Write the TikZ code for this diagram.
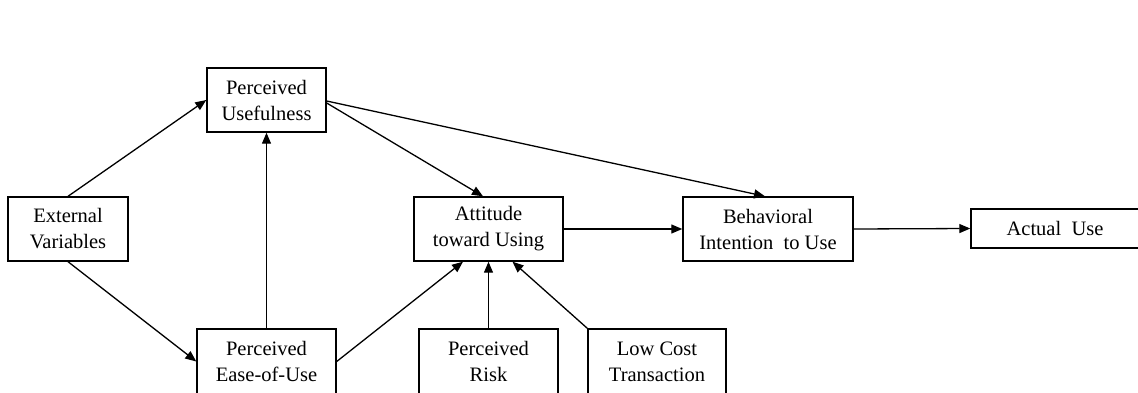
\documentclass[tikz,border=0pt]{standalone}
\usepackage{fontspec}
\setmainfont{Liberation Serif}
\usetikzlibrary{arrows.meta, positioning}

\tikzset{
	box/.style={draw, line width=1.4pt, align=center, inner sep=0pt,
		font=\fontsize{20.5}{26}\selectfont},
	arr/.style={line width=1.3pt, -{Triangle[length=11pt,width=9pt]}}
}

\begin{document}
\begin{tikzpicture}[x=1pt,y=1pt]
		\useasboundingbox (0,0) rectangle (1138,392);
		\node [box,minimum width=119pt,minimum height=64pt] at (266.5,292) (pu) {Perceived\\Usefulness};
		\node [box,minimum width=120pt,minimum height=64pt] at (68,163) (ev) {External\\Variables};
		\node [box,minimum width=139pt,minimum height=65pt] at (266.5,30.5) (ease) {Perceived\\Ease-of-Use};
		\node [box,minimum width=149pt,minimum height=64pt] at (488.5,163) (att) {Attitude\\toward Using};
		\node [box,minimum width=170pt,minimum height=64pt] at (768,163) (bi) {Behavioral\\Intention~ to Use};
		\node [box,minimum width=168pt,minimum height=39pt] at (1055,163.5) (au) {Actual~ Use};
		\node [box,minimum width=139pt,minimum height=65pt] at (488.5,30.5) (risk) {Perceived\\Risk};
		\node [box,minimum width=138pt,minimum height=65pt] at (657,30.5) (lc) {Low Cost\\Transaction};
		\draw [arr] (ev.north) -- (pu.west);
		\draw [arr] (ev.south) -- (ease.west);
		\draw [arr] (ease.north) -- (pu.south);
		\draw [arr] ([yshift=-3pt]pu.east) -- ([xshift=-5.5pt]att.north);
		\draw [arr] ([yshift=-1pt]pu.east) -- ([xshift=-3pt]bi.north);
		\draw [arr] (att.east) -- (bi.west);
		\draw [arr] (bi.east) -- (au.west);
		\draw [arr] (ease.east) -- ([xshift=-25.5pt]att.south);
		\draw [arr] (risk.north) -- (att.south);
		\draw [arr] (lc.north west) -- ([xshift=24pt]att.south);
	\end{tikzpicture}
\end{document}
